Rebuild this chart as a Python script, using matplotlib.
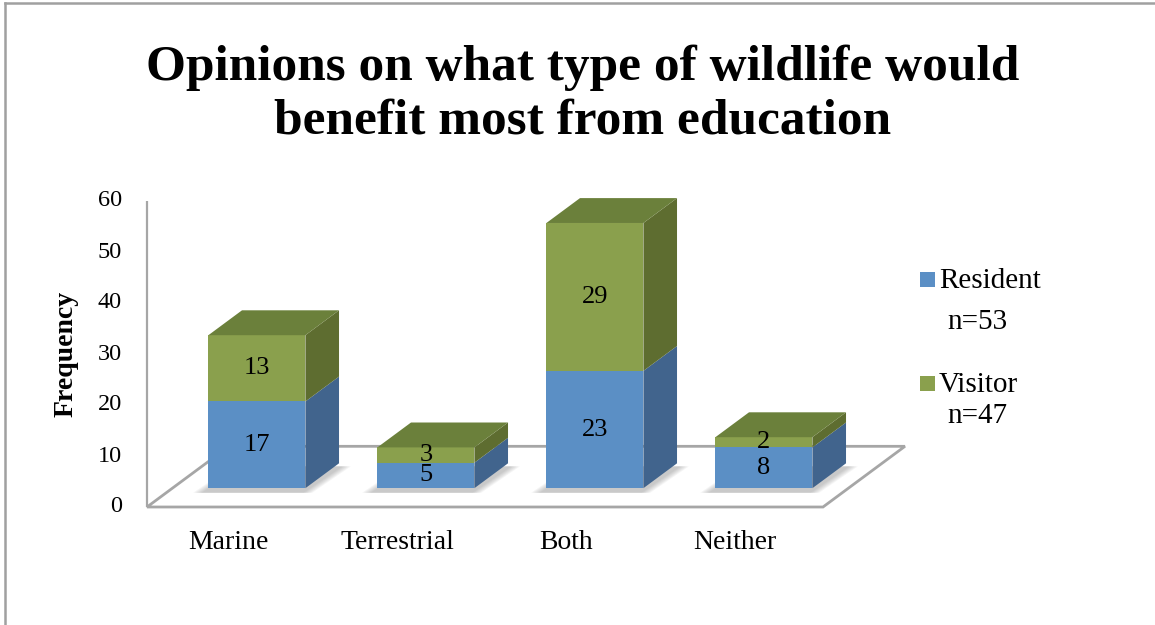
import matplotlib.pyplot as plt
from matplotlib.patches import Polygon, Rectangle
from matplotlib.lines import Line2D

# data
categories = ['Marine', 'Terrestrial', 'Both', 'Neither']
resident = [17, 5, 23, 8]
visitor = [13, 3, 29, 2]
series_names = ['Resident', 'Visitor']
series_n = ['n=53', 'n=47']
yticks = [0, 10, 20, 30, 40, 50, 60]

serif = ['Liberation Serif', 'DejaVu Serif']

# colours (front, side, top)
blue = ('#5b8fc5', '#41648d', '#4a77a8')
green = ('#8aa04d', '#5e6d30', '#6b803b')

# pseudo 3d geometry in data units
depth_x = 0.485     # floor depth, x direction
depth_y = 11.9      # floor depth, y direction (value units)
t_front, t_back = 0.31, 0.72
half_w = 0.287

fig = plt.figure(figsize=(11.55, 6.25), dpi=100)
ax = fig.add_axes([0, 0, 1, 1])
ax.axis('off')

# scales: x=-0.5 at px 147, x=3.5 at px 823 ; y=0 at px 507, y=60 at px 201
W, H = 1155, 625
px_x = 169.0
px_y = (507 - 201) / 60.0
ax.set_xlim(-0.5 - 147 / px_x, -0.5 + (W - 147) / px_x)
ax.set_ylim(-(H - 507) / px_y, 507 / px_y)

# frame around the chart
fig.add_artist(Line2D([5 / W, 5 / W], [0, 1 - 3 / H], color='#a0a0a0', lw=1.8))
fig.add_artist(Line2D([5 / W, 1], [1 - 3 / H, 1 - 3 / H], color='#a0a0a0', lw=1.8))

# floor
x0, x1 = -0.5, len(categories) - 0.5
floor = Polygon([(x0, 0), (x1, 0), (x1 + depth_x, depth_y), (x0 + depth_x, depth_y)],
                closed=True, facecolor='white', edgecolor='#a6a6a6', lw=2.0, zorder=1)
ax.add_patch(floor)

# vertical axis
ax.plot([x0, x0], [0, 60], color='#a6a6a6', lw=1.6, zorder=1, solid_capstyle='butt')
for v in yticks:
    ax.text(x0 - 25 / px_x, v, str(v), ha='right', va='center', fontsize=17.5, family=serif)

ax.text(-0.5 - 81 / px_x, 30, 'Frequency', rotation=90, ha='center', va='center',
        fontsize=20, fontweight='bold', family=serif)

fx, fy = depth_x * t_front, depth_y * t_front
bx, by = depth_x * t_back, depth_y * t_back

for i, cat in enumerate(categories):
    # soft shadow on the floor
    for k in range(6):
        e = 0.010 * (6 - k)
        ax.add_patch(Polygon([(i - half_w + fx - e - 0.03, fy - 0.9),
                              (i + half_w + fx + e - 0.02, fy - 0.9),
                              (i + half_w + bx + e + 0.01, by - 0.6),
                              (i - half_w + bx - e, by - 0.6)],
                             closed=True, facecolor='#7a7a7a', alpha=0.08,
                             edgecolor='none', zorder=2))
    base = 0
    segs = [(resident[i], blue), (visitor[i], green)]
    for j, (val, col) in enumerate(segs):
        lo, hi = base, base + val
        xl, xr = i - half_w + fx, i + half_w + fx
        # front face
        ax.add_patch(Polygon([(xl, lo + fy), (xr, lo + fy), (xr, hi + fy), (xl, hi + fy)],
                             closed=True, facecolor=col[0], edgecolor='none', zorder=3))
        # right side
        ax.add_patch(Polygon([(xr, lo + fy), (i + half_w + bx, lo + by),
                              (i + half_w + bx, hi + by), (xr, hi + fy)],
                             closed=True, facecolor=col[1], edgecolor='none', zorder=3))
        if j == len(segs) - 1:
            ax.add_patch(Polygon([(xl, hi + fy), (xr, hi + fy),
                                  (i + half_w + bx, hi + by), (i - half_w + bx, hi + by)],
                                 closed=True, facecolor=col[2], edgecolor='none', zorder=3))
        ax.text(i + fx, (lo + hi) / 2 + fy, str(val), ha='center', va='center',
                fontsize=19, family=serif, zorder=5)
        base = hi
    ax.text(i - 0.02, -7.0, cat, ha='center', va='center', fontsize=20, family=serif)

# legend
leg_x = 920 / W
for k, (name, n, col) in enumerate(zip(series_names, series_n, [blue, green])):
    top = [272, 376][k]
    fig.add_artist(Rectangle((leg_x, 1 - (top + 15) / H), 15 / W, 15 / H,
                             facecolor=col[0], edgecolor='none'))
    fig.text(939 / W, 1 - (top + 9) / H, name, ha='left', va='center',
             fontsize=21, family=serif)
    fig.text(947 / W, 1 - ([322, 416][k]) / H, n, ha='left', va='center',
             fontsize=21, family=serif)

# title
fig.text(583 / W, 1 - 80 / H, 'Opinions on what type of wildlife would',
         ha='center', va='baseline', fontsize=37, fontweight='bold', family=serif)
fig.text(583 / W, 1 - 133 / H, 'benefit most from education',
         ha='center', va='baseline', fontsize=37, fontweight='bold', family=serif)

fig.savefig('out.png', dpi=100)
